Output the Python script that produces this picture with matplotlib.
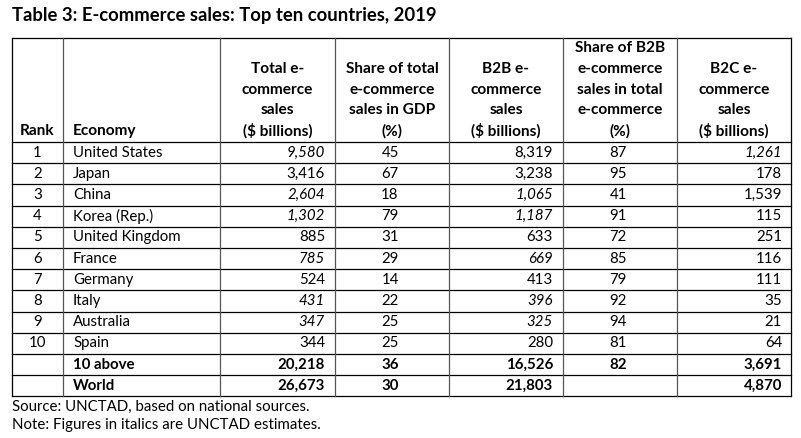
import matplotlib
matplotlib.use('Agg')
import matplotlib.pyplot as plt

plt.rcParams['font.family'] = ['Lato', 'DejaVu Sans']

title = "Table 3: E-commerce sales: Top ten countries, 2019"
headers = [
    ["Rank"],
    ["Economy"],
    ["Total e-", "commerce", "sales", "($ billions)"],
    ["Share of total", "e-commerce", "sales in GDP", "(%)"],
    ["B2B e-", "commerce", "sales", "($ billions)"],
    ["Share of B2B", "e-commerce", "sales in total", "e-commerce", "(%)"],
    ["B2C e-", "commerce", "sales", "($ billions)"],
]
ranks = ["1", "2", "3", "4", "5", "6", "7", "8", "9", "10", "", ""]
economies = ["United States", "Japan", "China", "Korea (Rep.)", "United Kingdom",
             "France", "Germany", "Italy", "Australia", "Spain", "10 above", "World"]
total_sales = [9580, 3416, 2604, 1302, 885, 785, 524, 431, 347, 344, 20218, 26673]
total_italic = [True, False, True, True, False, True, False, True, True, False, False, False]
share_gdp = [45, 67, 18, 79, 31, 29, 14, 22, 25, 25, 36, 30]
b2b_sales = [8319, 3238, 1065, 1187, 633, 669, 413, 396, 325, 280, 16526, 21803]
b2b_italic = [False, False, True, True, False, True, False, True, True, False, False, False]
share_b2b = [87, 95, 41, 91, 72, 85, 79, 92, 94, 81, 82, None]
b2c_sales = [1261, 178, 1539, 115, 251, 116, 111, 35, 21, 64, 3691, 4870]
b2c_italic = [True, False, False, False, False, False, False, False, False, False, False, False]
bold_rows = [False] * 10 + [True, True]
footnotes = ["Source: UNCTAD, based on national sources.",
             "Note: Figures in italics are UNCTAD estimates."]

W, H = 801, 438
fig = plt.figure(figsize=(W / 100, H / 100), dpi=100)
ax = fig.add_axes([0, 0, 1, 1])
ax.set_xlim(0, W)
ax.set_ylim(H, 0)
ax.axis('off')

col_edges = [12, 63, 220, 335, 449, 563, 677, 791]
table_top = 38
header_bottom = 142
row_h = 21.2
n_rows = len(economies)
table_bottom = header_bottom + row_h * n_rows
fs = 10.8
fs_head = 11.1
lw = 0.9

ax.text(12, 16, title, fontsize=13.3, fontweight='bold', va='center', ha='left')

# grid lines
ax.plot([col_edges[0], col_edges[-1]], [table_top, table_top], color='black', lw=lw)
for r in range(n_rows + 1):
    y = header_bottom + r * row_h
    ax.plot([col_edges[0], col_edges[-1]], [y, y], color='black', lw=lw)
for i, x in enumerate(col_edges):
    c = 'black' if i in (0, len(col_edges) - 1) else '#555555'
    ax.plot([x, x], [table_top, table_bottom], color=c, lw=lw)

# headers
line_pitch = 20.7
last_line_y = 131
for ci, lines in enumerate(headers):
    x0, x1 = col_edges[ci], col_edges[ci + 1]
    for k, line in enumerate(reversed(lines)):
        y = last_line_y - k * line_pitch
        if ci == 1:
            ax.text(x0 + 10, y, line, fontsize=fs_head, fontweight='bold', ha='left', va='center')
        else:
            ax.text((x0 + x1) / 2, y, line, fontsize=fs_head, fontweight='bold', ha='center', va='center')

def fmt(v):
    return "" if v is None else f"{v:,}"

for r in range(n_rows):
    yc = header_bottom + (r + 0.5) * row_h
    wt = 'bold' if bold_rows[r] else 'normal'
    ax.text((col_edges[0] + col_edges[1]) / 2, yc, ranks[r], fontsize=fs, fontweight=wt, ha='center', va='center')
    ax.text(col_edges[1] + 10, yc, economies[r], fontsize=fs, fontweight=wt, ha='left', va='center')
    ax.text(col_edges[3] - 10, yc, fmt(total_sales[r]), fontsize=fs, fontweight=wt,
            style='italic' if total_italic[r] else 'normal', ha='right', va='center')
    ax.text((col_edges[3] + col_edges[4]) / 2 - 2, yc, fmt(share_gdp[r]), fontsize=fs, fontweight=wt, ha='center', va='center')
    ax.text(col_edges[5] - 10, yc, fmt(b2b_sales[r]), fontsize=fs, fontweight=wt,
            style='italic' if b2b_italic[r] else 'normal', ha='right', va='center')
    ax.text((col_edges[5] + col_edges[6]) / 2 - 2, yc, fmt(share_b2b[r]), fontsize=fs, fontweight=wt, ha='center', va='center')
    ax.text(col_edges[7] - 9, yc, fmt(b2c_sales[r]), fontsize=fs, fontweight=wt,
            style='italic' if b2c_italic[r] else 'normal', ha='right', va='center')

for k, note in enumerate(footnotes):
    ax.text(12, 407 + k * 18.5, note, fontsize=fs, ha='left', va='center')

fig.savefig('out.png', dpi=100)
